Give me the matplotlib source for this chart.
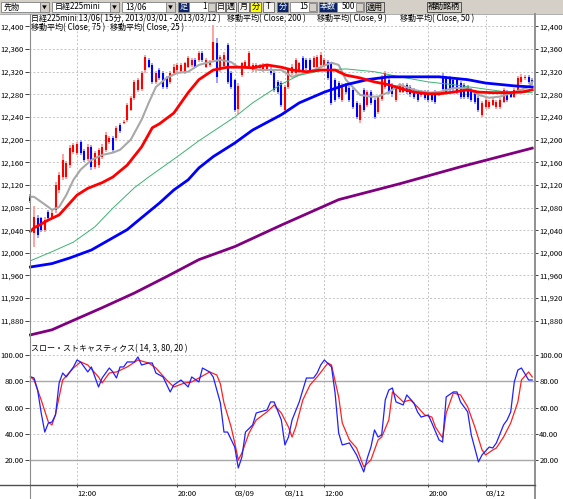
import numpy as np
import matplotlib
matplotlib.use('Agg')
import matplotlib.pyplot as plt
from matplotlib.patches import Rectangle

plt.rcParams['font.family'] = ['Noto Sans CJK JP', 'DejaVu Sans']

W, H = 563, 499

# 15分足 (日経225mini 13/06)
opens = [12100, 12035, 12062, 12062, 12041, 12072, 12064, 12076, 12111, 12134,
         12134, 12155, 12178, 12176, 12196, 12180, 12166, 12187, 12152, 12155,
         12170, 12182, 12196, 12203, 12203, 12226, 12229, 12235, 12253, 12274,
         12288, 12290, 12323, 12341, 12332, 12302, 12323, 12318, 12309, 12302,
         12318, 12323, 12321, 12320, 12329, 12332, 12341, 12341, 12353, 12329,
         12332, 12341, 12370, 12323, 12330, 12367, 12318, 12305, 12255, 12314,
         12327, 12327, 12323, 12323, 12326, 12323, 12325, 12325, 12318, 12302,
         12300, 12253, 12293, 12318, 12318, 12320, 12344, 12341, 12341, 12329,
         12329, 12332, 12332, 12337, 12335, 12306, 12300, 12270, 12297, 12292,
         12288, 12265, 12235, 12288, 12262, 12285, 12270, 12249, 12272, 12293,
         12306, 12297, 12270, 12285, 12285, 12297, 12293, 12288, 12285, 12279,
         12285, 12285, 12282, 12285, 12280, 12312, 12309, 12309, 12305, 12305,
         12300, 12297, 12293, 12288, 12285, 12274, 12244, 12258, 12258, 12262,
         12258, 12258, 12267, 12285, 12282, 12276, 12288, 12302, 12309, 12311,
         12306]
highs = [12104, 12082, 12066, 12064, 12064, 12076, 12076, 12126, 12142, 12174,
         12162, 12190, 12194, 12196, 12200, 12184, 12192, 12190, 12180, 12186,
         12192, 12214, 12206, 12206, 12224, 12230, 12234, 12264, 12278, 12306,
         12309, 12322, 12350, 12344, 12336, 12322, 12326, 12322, 12312, 12322,
         12333, 12336, 12336, 12338, 12348, 12345, 12344, 12357, 12356, 12345,
         12340, 12402, 12380, 12350, 12354, 12370, 12321, 12308, 12300, 12338,
         12340, 12357, 12336, 12336, 12334, 12336, 12334, 12328, 12321, 12305,
         12303, 12296, 12327, 12333, 12345, 12338, 12347, 12344, 12344, 12348,
         12350, 12354, 12345, 12340, 12338, 12309, 12303, 12300, 12300, 12295,
         12291, 12268, 12264, 12291, 12288, 12288, 12273, 12278, 12314, 12321,
         12309, 12300, 12296, 12300, 12300, 12300, 12296, 12291, 12288, 12288,
         12288, 12288, 12285, 12288, 12286, 12318, 12312, 12312, 12308, 12308,
         12303, 12300, 12296, 12291, 12288, 12277, 12268, 12273, 12270, 12273,
         12270, 12273, 12291, 12288, 12285, 12291, 12313, 12316, 12314, 12314,
         12309]
lows = [12088, 12011, 12026, 12036, 12036, 12056, 12060, 12070, 12106, 12128,
        12130, 12150, 12174, 12172, 12172, 12160, 12162, 12146, 12148, 12150,
        12166, 12178, 12192, 12178, 12198, 12212, 12227, 12232, 12250, 12270,
        12285, 12286, 12318, 12326, 12298, 12298, 12305, 12289, 12290, 12298,
        12315, 12320, 12318, 12316, 12326, 12329, 12326, 12338, 12338, 12326,
        12328, 12338, 12300, 12320, 12327, 12298, 12289, 12249, 12245, 12311,
        12324, 12324, 12320, 12320, 12322, 12320, 12322, 12315, 12284, 12280,
        12258, 12250, 12290, 12315, 12315, 12317, 12319, 12323, 12319, 12326,
        12326, 12329, 12329, 12305, 12261, 12266, 12272, 12266, 12281, 12266,
        12254, 12236, 12230, 12249, 12258, 12261, 12236, 12245, 12268, 12290,
        12281, 12276, 12266, 12282, 12282, 12281, 12276, 12272, 12266, 12276,
        12270, 12266, 12266, 12263, 12277, 12284, 12281, 12286, 12286, 12281,
        12272, 12272, 12272, 12266, 12263, 12249, 12240, 12255, 12255, 12259,
        12255, 12255, 12264, 12266, 12273, 12273, 12285, 12299, 12306, 12298,
        12296]
closes = [12092, 12064, 12032, 12041, 12058, 12062, 12070, 12120, 12138, 12164,
          12159, 12185, 12190, 12192, 12176, 12164, 12187, 12152, 12176, 12182,
          12187, 12208, 12203, 12182, 12221, 12215, 12232, 12261, 12274, 12302,
          12306, 12318, 12346, 12329, 12302, 12318, 12309, 12293, 12293, 12318,
          12329, 12332, 12332, 12335, 12344, 12341, 12329, 12353, 12341, 12341,
          12337, 12373, 12310, 12346, 12350, 12302, 12293, 12253, 12295, 12335,
          12337, 12353, 12332, 12332, 12330, 12332, 12330, 12318, 12288, 12284,
          12262, 12293, 12323, 12329, 12341, 12335, 12323, 12327, 12323, 12344,
          12346, 12350, 12341, 12309, 12265, 12270, 12276, 12297, 12285, 12270,
          12258, 12240, 12261, 12253, 12285, 12265, 12240, 12275, 12311, 12318,
          12285, 12280, 12293, 12297, 12297, 12285, 12280, 12276, 12270, 12285,
          12274, 12270, 12270, 12267, 12283, 12290, 12285, 12290, 12290, 12285,
          12276, 12276, 12276, 12270, 12267, 12253, 12265, 12270, 12267, 12270,
          12267, 12270, 12288, 12270, 12276, 12288, 12309, 12311, 12311, 12302,
          12300]

# 移動平均 (at these bars)
ma200_bar = [0, 6, 11, 20, 29, 38, 47, 57, 70, 86, 103, 120, 140]
ma200 = [11855, 11864, 11878, 11903, 11929, 11958, 11988, 12011, 12049, 12094, 12122, 12152, 12185]

ma9_bar = [0, 1, 3, 5, 6, 8, 10, 12, 14, 17, 20, 23, 25, 28, 31, 33, 35, 38, 41, 44,
           47, 50, 53, 56, 58, 61, 64, 70, 73, 77, 81, 84, 86, 88, 92, 95, 97, 100, 103, 107,
           111, 114, 118, 122, 125, 128, 131, 135, 139, 140]
ma9 = [12099, 12099, 12090, 12081, 12076, 12081, 12102, 12129, 12147, 12164,
       12173, 12177, 12182, 12200, 12235, 12265, 12293, 12309, 12318, 12320,
       12332, 12337, 12341, 12337, 12328, 12327, 12323, 12323, 12311, 12318,
       12328, 12336, 12332, 12306, 12279, 12276, 12276, 12284, 12297, 12288,
       12283, 12284, 12291, 12291, 12279, 12274, 12276, 12284, 12293, 12302]

ma50_bar = [0, 6, 12, 18, 23, 29, 33, 41, 47, 57, 62, 70, 75, 82, 88, 96, 103, 111, 118, 125, 133, 140]
ma50 = [11986, 12002, 12019, 12046, 12079, 12115, 12134, 12170, 12198, 12240, 12265,
        12298, 12314, 12323, 12325, 12320, 12311, 12302, 12297, 12291, 12284, 12283]

ma75_bar = [0, 6, 11, 17, 22, 27, 31, 36, 40, 44, 47, 51, 57, 62, 70, 75, 82, 88, 94, 100,
            107, 114, 122, 127, 135, 140]
ma75 = [11975, 11981, 11991, 12005, 12023, 12041, 12062, 12088, 12111, 12129,
        12150, 12170, 12194, 12217, 12244, 12265, 12284, 12297, 12306, 12311,
        12311, 12311, 12306, 12300, 12295, 12293]

ma25_bar = [0, 1, 5, 8, 10, 13, 16, 20, 23, 27, 31, 34, 36, 40, 44, 47, 51, 55, 59, 62,
            66, 70, 73, 77, 81, 85, 88, 92, 96, 100, 103, 107, 111, 114, 118, 122, 125, 129, 133, 137,
            140]
ma25 = [12038, 12044, 12058, 12067, 12081, 12102, 12114, 12124, 12134, 12155,
        12187, 12221, 12228, 12247, 12283, 12306, 12323, 12328, 12328, 12327,
        12332, 12328, 12323, 12320, 12323, 12323, 12314, 12309, 12302, 12297,
        12291, 12284, 12281, 12281, 12284, 12288, 12284, 12283, 12283, 12284,
        12288]

# スロー・ストキャスティクス
k_bar = [0, 1, 2, 3, 4, 5, 6, 7, 8, 9, 10, 12, 13, 14, 16, 17, 19, 20, 22, 23,
         24, 25, 26, 27, 29, 30, 31, 33, 34, 35, 37, 39, 40, 42, 44, 45, 47, 48, 50, 51,
         53, 54, 55, 57, 58, 59, 60, 62, 63, 64, 66, 67, 68, 70, 71, 72, 73, 75, 77, 79,
         80, 81, 82, 84, 85, 86, 87, 89, 91, 93, 94, 95, 96, 97, 98, 99, 100, 101, 102, 104,
         105, 107, 108, 109, 111, 112, 114, 115, 116, 118, 119, 120, 122, 123, 125, 126, 128, 129, 130, 132,
         133, 134, 135, 136, 137, 139, 140]
k_val = [83.5, 82.5, 73.4, 56, 41.4, 48.3, 49, 54.4, 78.7, 86.3,
         83.3, 90.9, 96.2, 94.7, 87.1, 90.9, 75.7, 82.5, 90.1, 87.1,
         82.5, 90.9, 90.9, 94.7, 94.7, 98.5, 92.4, 93.9, 93.9, 86.3,
         83.3, 71.9, 77.2, 81, 75.7, 83.3, 79.5, 90.1, 87.1, 83.3,
         63.5, 41.4, 41.4, 30, 14.1, 22.4, 41.4, 46.8, 55.9, 56.7,
         58.2, 64.3, 64.3, 50.6, 31.6, 37.6, 50.6, 64.3, 82.5, 82.5,
         86.3, 92.4, 96.2, 90.9, 71.1, 40.7, 31.6, 33.1, 24, 11.1,
         21.7, 30, 43, 37.6, 39.2, 65.8, 73.4, 74.9, 64.3, 62,
         69.6, 63.5, 56.7, 52.8, 54.4, 48.3, 35.4, 33.8, 68.1, 71.9,
         71.9, 64.3, 56.7, 39.2, 18.7, 24, 30, 29.3, 33.1, 46.8,
         50.6, 56.7, 79.5, 88.6, 90.1, 81, 81]
d_bar = [0, 1, 3, 5, 6, 7, 8, 9, 12, 14, 16, 19, 20, 22, 24, 27, 30, 33, 35, 38,
         40, 43, 45, 47, 50, 52, 53, 54, 56, 57, 58, 59, 61, 63, 66, 68, 70, 72, 73, 74,
         76, 78, 80, 83, 84, 86, 87, 89, 91, 93, 95, 97, 98, 100, 101, 102, 104, 106, 108, 110,
         112, 113, 115, 116, 118, 120, 122, 124, 126, 127, 129, 130, 132, 134, 136, 137, 139, 140]
d_val = [83.3, 81, 65.8, 49, 46.8, 55, 68, 81, 90.1, 94.7,
         92.4, 83.3, 78.7, 86.3, 87.1, 90.9, 96.2, 93.9, 90.1, 81,
         75.7, 78.7, 79.5, 82.5, 87.1, 84.8, 78, 63.5, 45.2, 33.1,
         20.2, 25.5, 40.7, 50.6, 56.7, 62, 55.9, 45.2, 37.6, 45,
         65.8, 77.2, 83.3, 93.9, 92.4, 68.1, 48.3, 35.4, 29.3, 14.9,
         20.2, 35.4, 37.6, 50.6, 71.9, 69.6, 64.3, 65.8, 60.5, 54.4,
         52.8, 45.2, 36.9, 55.9, 71.1, 69.6, 60.5, 45.2, 27.8, 24,
         27.8, 29.3, 37.6, 48.3, 64.3, 81, 87.1, 83.3]

tick_bar = [13, 41, 57, 71, 82, 111, 127]
tick_lbl = ['12:00', '20:00', '03/09', '03/11', '12:00', '20:00', '03/12']
price_ticks = list(range(11880, 12401, 40))
stoch_ticks = [20, 40, 60, 80, 100]

fig = plt.figure(figsize=(W / 100, H / 100), dpi=100)
fig.patch.set_facecolor('white')


def fx(px):
    return px / W


def fy(py):
    return 1 - py / H


ax = fig.add_axes([fx(29), fy(340), fx(534) - fx(29), fy(14) - fy(340)])
ax2 = fig.add_axes([fx(29), fy(484), fx(534) - fx(29), fy(340) - fy(484)])

grid_kw = dict(color='#c4c4c4', linestyle=(0, (2, 2)), linewidth=0.7)
for a in (ax, ax2):
    a.set_xlim(-0.4, 140.5)
    for s in a.spines.values():
        s.set_visible(False)
    a.set_xticks(tick_bar)
    a.grid(True, **grid_kw)
    a.set_axisbelow(True)
    a.tick_params(axis='y', which='both', left=True, right=True, labelleft=True,
                  labelright=True, length=3, width=0.7, color='#404040',
                  labelsize=5.5, pad=0.8, direction='out')

# price panel
ax.set_ylim(11846, 12422)
ax.set_yticks(price_ticks)
ax.set_yticklabels([f'{v:,}' for v in price_ticks])
ax.tick_params(axis='x', length=0, labelbottom=False)

x = np.arange(len(closes))
o = np.array(opens)
h = np.array(highs)
l = np.array(lows)
c = np.array(closes)
up = c >= o
ax.vlines(x[up], l[up], h[up], color='#ff9a9a', lw=1.3, zorder=2)
ax.vlines(x[up], o[up], c[up], color='#ff0000', lw=1.5, zorder=2.1)
ax.vlines(x[~up], l[~up], h[~up], color='#9a9aff', lw=1.3, zorder=2)
ax.vlines(x[~up], c[~up], o[~up], color='#0000ff', lw=1.5, zorder=2.1)

ax.plot(ma200_bar, ma200, color='#800080', lw=2.0, zorder=3)
ax.plot(ma9_bar, ma9, color='#a8a8a8', lw=1.5, zorder=3.2)
ax.plot(ma50_bar, ma50, color='#3cb371', lw=0.7, zorder=3.3)
ax.plot(ma75_bar, ma75, color='#0000ff', lw=2.0, zorder=3.4)
ax.plot(ma25_bar, ma25, color='#ff0000', lw=2.0, zorder=3.5)

# stochastic panel
ax2.set_ylim(1.9, 111.4)
ax2.set_yticks(stoch_ticks)
ax2.set_yticklabels([f'{v:.2f}' for v in stoch_ticks])
ax2.axhline(80, color='#a8a8a8', lw=1.0, zorder=1)
ax2.axhline(20, color='#a8a8a8', lw=1.0, zorder=1)
ax2.plot(d_bar, d_val, color='#ff2020', lw=0.9, zorder=3)
ax2.plot(k_bar, k_val, color='#2020ff', lw=0.9, zorder=3.1)
ax2.set_xticklabels(tick_lbl)
ax2.tick_params(axis='x', length=2.5, width=0.7, color='#404040', labelsize=5.5, pad=1.5)
for t in ax2.get_xticklabels():
    t.set_ha('left')

# window chrome drawn in pixel coordinates
bg = fig.add_axes([0, 0, 1, 1], zorder=5)
bg.set_xlim(0, W)
bg.set_ylim(H, 0)
bg.axis('off')
bg.patch.set_visible(False)

bg.add_patch(Rectangle((0, 0), W, 13.5, fc='#d4d0c8', ec='none'))
bg.plot([0, W], [13.5, 13.5], color='#a0a0a0', lw=0.6)


def box(x0, x1, fc, ec='#808080', y0=1.5, y1=12):
    bg.add_patch(Rectangle((x0, y0), x1 - x0, y1 - y0, fc=fc, ec=ec, lw=0.6))


def btxt(xp, s, color='black', ha='left', size=5.8):
    bg.text(xp, 6.9, s, ha=ha, va='center', fontsize=size, color=color)


def combo(x0, x1, s):
    box(x0, x1, 'white')
    btxt(x0 + 3, s)
    box(x1 - 9, x1, '#d4d0c8')
    btxt(x1 - 4.5, '▼', ha='center', size=3.5)


def field(x0, x1, s):
    box(x0, x1, 'white')
    btxt(x1 - 9, s, ha='right')
    box(x1 - 8, x1 - 1, '#d4d0c8', y0=3, y1=10.5)


combo(1, 49, '先物')
combo(52, 119, '日経225mini')
combo(122, 175, '13/06')
box(178, 189, '#0a246a')
btxt(183.5, '足', color='white', ha='center')
field(189, 216, '1')
for (x0, x1, s) in [(216, 225, '日'), (226, 236, '週'), (238, 249, '月'), (250, 261, '分'), (263, 274, 'T')]:
    box(x0, x1, '#ffff00' if s == '分' else '#f4f2ee', ec='#606060')
    btxt((x0 + x1) / 2, s, ha='center')
box(277, 288, '#0a246a')
btxt(282.5, '分', color='white', ha='center')
field(290, 317, '15')
box(319, 337, '#0a246a')
btxt(328, '本数', color='white', ha='center')
field(337, 364, '500')
box(366, 384, '#d4d0c8', ec='#404040')
btxt(375, '適用', ha='center')
box(427, 461, '#d4d0c8', ec='#404040')
btxt(444, '補助銘柄', ha='center')

# frame lines
bg.plot([29.5, 29.5], [14, H], color='#8c8c8c', lw=0.8)
bg.plot([534.5, 534.5], [14, H], color='#909090', lw=1.4)
bg.plot([0, 534.5], [484.5, 484.5], color='#505050', lw=1.0)

tkw = dict(ha='left', va='center', fontsize=5.8, color='black')
bg.text(31, 18.5, '日経225mini 13/06( 15分, 2013/03/01 - 2013/03/12 )', **tkw)
bg.text(227, 18.5, '移動平均( Close, 200 )', **tkw)
bg.text(317, 18.5, '移動平均( Close, 9 )', **tkw)
bg.text(400, 18.5, '移動平均( Close, 50 )', **tkw)
bg.text(31, 27.5, '移動平均( Close, 75 )', **tkw)
bg.text(110, 27.5, '移動平均( Close, 25 )', **tkw)
bg.text(31, 349, 'スロー・ストキャスティクス( 14, 3, 80, 20 )', **tkw)

fig.savefig('out.png', dpi=100)
